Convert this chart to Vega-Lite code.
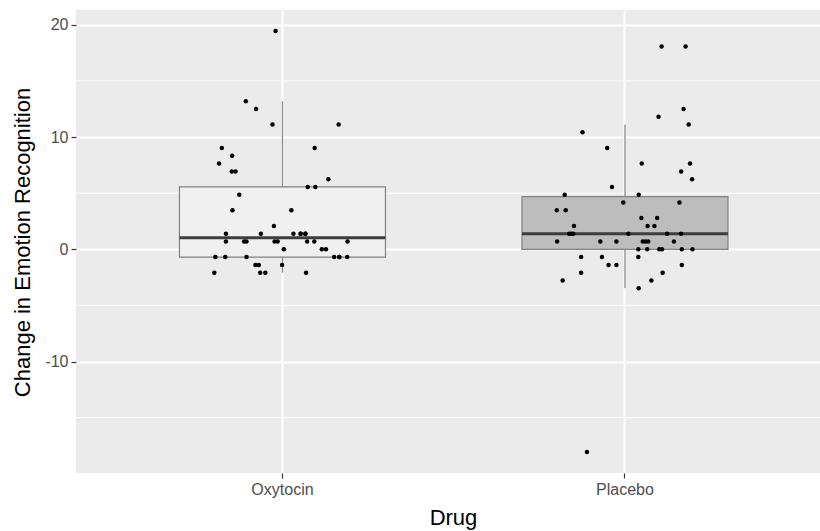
{
 "$schema": "https://vega.github.io/schema/vega-lite/v6.json",
 "width": 744, "height": 463,
 "autosize": {"type": "none"},
 "padding": {"left": 76, "top": 10, "right": 0, "bottom": 58},
 "background": "white",
 "config": {
  "view": {"fill": "#EBEBEB", "stroke": null},
  "font": "Liberation Sans",
  "axis": {"domain": false, "grid": true, "gridColor": "white", "gridWidth": 2, "tickColor": "#333333", "tickSize": 5, "tickWidth": 1.2, "labelColor": "#4D4D4D", "labelFontSize": 16, "titleFontSize": 22, "titleFontWeight": "normal", "titleColor": "black", "labelPadding": 3},
  "axisX": {"labelAngle": 0, "titleX": 377, "titleY": 51, "titleBaseline": "alphabetic", "titleAlign": "center", "bandPosition": 0.5},
  "axisY": {"titleAngle": -90, "titleX": -54, "titleY": 232, "titleAlign": "center", "titleBaseline": "middle"}
 },
 "data": {"values": [
  {"Drug": "Oxytocin", "value": 19.44, "jitter": -0.020},
  {"Drug": "Oxytocin", "value": 13.19, "jitter": -0.107},
  {"Drug": "Oxytocin", "value": 12.50, "jitter": -0.077},
  {"Drug": "Oxytocin", "value": 11.11, "jitter": -0.029},
  {"Drug": "Oxytocin", "value": 11.11, "jitter": 0.164},
  {"Drug": "Oxytocin", "value": 9.03, "jitter": -0.177},
  {"Drug": "Oxytocin", "value": 9.03, "jitter": 0.094},
  {"Drug": "Oxytocin", "value": 8.33, "jitter": -0.147},
  {"Drug": "Oxytocin", "value": 7.64, "jitter": -0.185},
  {"Drug": "Oxytocin", "value": 6.94, "jitter": -0.148},
  {"Drug": "Oxytocin", "value": 6.94, "jitter": -0.137},
  {"Drug": "Oxytocin", "value": 6.25, "jitter": 0.134},
  {"Drug": "Oxytocin", "value": 5.56, "jitter": 0.074},
  {"Drug": "Oxytocin", "value": 5.56, "jitter": 0.096},
  {"Drug": "Oxytocin", "value": 4.86, "jitter": -0.126},
  {"Drug": "Oxytocin", "value": 3.47, "jitter": -0.146},
  {"Drug": "Oxytocin", "value": 3.47, "jitter": 0.026},
  {"Drug": "Oxytocin", "value": 2.08, "jitter": -0.025},
  {"Drug": "Oxytocin", "value": 1.39, "jitter": -0.165},
  {"Drug": "Oxytocin", "value": 1.39, "jitter": -0.063},
  {"Drug": "Oxytocin", "value": 1.39, "jitter": 0.032},
  {"Drug": "Oxytocin", "value": 1.39, "jitter": 0.053},
  {"Drug": "Oxytocin", "value": 1.39, "jitter": 0.067},
  {"Drug": "Oxytocin", "value": 1.39, "jitter": 0.053},
  {"Drug": "Oxytocin", "value": 1.39, "jitter": 0.067},
  {"Drug": "Oxytocin", "value": 0.69, "jitter": -0.165},
  {"Drug": "Oxytocin", "value": 0.69, "jitter": -0.112},
  {"Drug": "Oxytocin", "value": 0.69, "jitter": -0.105},
  {"Drug": "Oxytocin", "value": 0.69, "jitter": -0.023},
  {"Drug": "Oxytocin", "value": 0.69, "jitter": -0.014},
  {"Drug": "Oxytocin", "value": 0.69, "jitter": 0.072},
  {"Drug": "Oxytocin", "value": 0.69, "jitter": 0.093},
  {"Drug": "Oxytocin", "value": 0.69, "jitter": 0.190},
  {"Drug": "Oxytocin", "value": 0, "jitter": 0.004},
  {"Drug": "Oxytocin", "value": 0, "jitter": 0.115},
  {"Drug": "Oxytocin", "value": 0, "jitter": 0.127},
  {"Drug": "Oxytocin", "value": -0.69, "jitter": -0.196},
  {"Drug": "Oxytocin", "value": -0.69, "jitter": -0.167},
  {"Drug": "Oxytocin", "value": -0.69, "jitter": -0.105},
  {"Drug": "Oxytocin", "value": -0.69, "jitter": 0.151},
  {"Drug": "Oxytocin", "value": -0.69, "jitter": 0.166},
  {"Drug": "Oxytocin", "value": -0.69, "jitter": 0.189},
  {"Drug": "Oxytocin", "value": -0.69, "jitter": 0.166},
  {"Drug": "Oxytocin", "value": -1.39, "jitter": -0.079},
  {"Drug": "Oxytocin", "value": -1.39, "jitter": -0.069},
  {"Drug": "Oxytocin", "value": -1.39, "jitter": -0.001},
  {"Drug": "Oxytocin", "value": -2.08, "jitter": -0.199},
  {"Drug": "Oxytocin", "value": -2.08, "jitter": -0.065},
  {"Drug": "Oxytocin", "value": -2.08, "jitter": -0.050},
  {"Drug": "Oxytocin", "value": -2.08, "jitter": 0.069},
  {"Drug": "Placebo", "value": 18.06, "jitter": 0.107},
  {"Drug": "Placebo", "value": 18.06, "jitter": 0.177},
  {"Drug": "Placebo", "value": 12.50, "jitter": 0.171},
  {"Drug": "Placebo", "value": 11.81, "jitter": 0.098},
  {"Drug": "Placebo", "value": 11.11, "jitter": 0.186},
  {"Drug": "Placebo", "value": 10.42, "jitter": -0.124},
  {"Drug": "Placebo", "value": 9.03, "jitter": -0.052},
  {"Drug": "Placebo", "value": 7.64, "jitter": 0.049},
  {"Drug": "Placebo", "value": 7.64, "jitter": 0.190},
  {"Drug": "Placebo", "value": 6.94, "jitter": 0.164},
  {"Drug": "Placebo", "value": 6.25, "jitter": 0.196},
  {"Drug": "Placebo", "value": 5.56, "jitter": -0.038},
  {"Drug": "Placebo", "value": 4.86, "jitter": -0.176},
  {"Drug": "Placebo", "value": 4.86, "jitter": 0.040},
  {"Drug": "Placebo", "value": 4.17, "jitter": -0.005},
  {"Drug": "Placebo", "value": 4.17, "jitter": 0.159},
  {"Drug": "Placebo", "value": 3.47, "jitter": -0.199},
  {"Drug": "Placebo", "value": 3.47, "jitter": -0.173},
  {"Drug": "Placebo", "value": 2.78, "jitter": 0.048},
  {"Drug": "Placebo", "value": 2.78, "jitter": 0.094},
  {"Drug": "Placebo", "value": 2.08, "jitter": -0.149},
  {"Drug": "Placebo", "value": 2.08, "jitter": 0.066},
  {"Drug": "Placebo", "value": 2.08, "jitter": 0.086},
  {"Drug": "Placebo", "value": 1.39, "jitter": -0.163},
  {"Drug": "Placebo", "value": 1.39, "jitter": -0.157},
  {"Drug": "Placebo", "value": 1.39, "jitter": -0.151},
  {"Drug": "Placebo", "value": 1.39, "jitter": 0.010},
  {"Drug": "Placebo", "value": 1.39, "jitter": 0.123},
  {"Drug": "Placebo", "value": 1.39, "jitter": 0.164},
  {"Drug": "Placebo", "value": 0.69, "jitter": -0.198},
  {"Drug": "Placebo", "value": 0.69, "jitter": -0.072},
  {"Drug": "Placebo", "value": 0.69, "jitter": -0.025},
  {"Drug": "Placebo", "value": 0.69, "jitter": 0.052},
  {"Drug": "Placebo", "value": 0.69, "jitter": 0.060},
  {"Drug": "Placebo", "value": 0.69, "jitter": 0.068},
  {"Drug": "Placebo", "value": 0.69, "jitter": 0.143},
  {"Drug": "Placebo", "value": 0, "jitter": 0.039},
  {"Drug": "Placebo", "value": 0, "jitter": 0.065},
  {"Drug": "Placebo", "value": 0, "jitter": 0.100},
  {"Drug": "Placebo", "value": 0, "jitter": 0.108},
  {"Drug": "Placebo", "value": 0, "jitter": 0.166},
  {"Drug": "Placebo", "value": 0, "jitter": 0.197},
  {"Drug": "Placebo", "value": -0.69, "jitter": -0.128},
  {"Drug": "Placebo", "value": -0.69, "jitter": -0.067},
  {"Drug": "Placebo", "value": -0.69, "jitter": 0.039},
  {"Drug": "Placebo", "value": -1.39, "jitter": -0.048},
  {"Drug": "Placebo", "value": -1.39, "jitter": -0.025},
  {"Drug": "Placebo", "value": -1.39, "jitter": 0.166},
  {"Drug": "Placebo", "value": -2.08, "jitter": -0.128},
  {"Drug": "Placebo", "value": -2.08, "jitter": 0.110},
  {"Drug": "Placebo", "value": -2.78, "jitter": -0.182},
  {"Drug": "Placebo", "value": -2.78, "jitter": 0.077},
  {"Drug": "Placebo", "value": -3.47, "jitter": 0.040},
  {"Drug": "Placebo", "value": -18.06, "jitter": -0.111}
 ]},
 "layer": [
  {
   "data": {"values": [{"g": -15}, {"g": -5}, {"g": 5}, {"g": 15}]},
   "mark": {"type": "rule", "color": "white", "strokeWidth": 1},
   "encoding": {
    "y": {"field": "g", "type": "quantitative", "title": "Change in Emotion Recognition", "scale": {"domain": [-19.93, 21.32], "nice": false, "zero": false}, "axis": {"values": [-10, 0, 10, 20], "labelExpr": "'' + datum.value"}}
   }
  },
  {
   "transform": [{"filter": "datum.Drug === 'Oxytocin'"}],
   "mark": {"type": "boxplot", "extent": 1.5, "size": 206, "outliers": false, "ticks": false, "color": "#F0F0F0",
    "box": {"stroke": "#808080", "strokeWidth": 1.2},
    "median": {"color": "#3D3D3D", "thickness": 3, "opacity": 1},
    "rule": {"color": "#8C8C8C", "strokeWidth": 1.3}},
   "encoding": {
    "x": {"field": "Drug", "type": "nominal", "title": "Drug", "scale": {"type": "band", "domain": ["Oxytocin", "Placebo"], "paddingInner": 0, "paddingOuter": 0.0861, "align": 0.597}},
    "y": {"field": "value", "type": "quantitative", "title": "Change in Emotion Recognition", "axis": {"values": [-10, 0, 10, 20], "labelExpr": "'' + datum.value"}}
   }
  },
  {
   "transform": [{"filter": "datum.Drug === 'Placebo'"}],
   "mark": {"type": "boxplot", "extent": 1.5, "size": 206, "outliers": false, "ticks": false, "color": "#BDBDBD",
    "box": {"stroke": "#808080", "strokeWidth": 1.2},
    "median": {"color": "#3D3D3D", "thickness": 3, "opacity": 1},
    "rule": {"color": "#8C8C8C", "strokeWidth": 1.3}},
   "encoding": {
    "x": {"field": "Drug", "type": "nominal", "title": "Drug"},
    "y": {"field": "value", "type": "quantitative", "title": "Change in Emotion Recognition", "axis": {"values": [-10, 0, 10, 20], "labelExpr": "'' + datum.value"}}
   }
  },
  {
   "mark": {"type": "circle", "size": 20, "color": "black", "opacity": 1},
   "encoding": {
    "x": {"field": "Drug", "type": "nominal", "title": "Drug", "bandPosition": 0},
    "xOffset": {"field": "jitter", "type": "quantitative", "scale": {"domain": [-0.5, 0.5], "range": [0, 342.5]}},
    "y": {"field": "value", "type": "quantitative", "title": "Change in Emotion Recognition", "axis": {"values": [-10, 0, 10, 20], "labelExpr": "'' + datum.value"}}
   }
  }
 ]
}
